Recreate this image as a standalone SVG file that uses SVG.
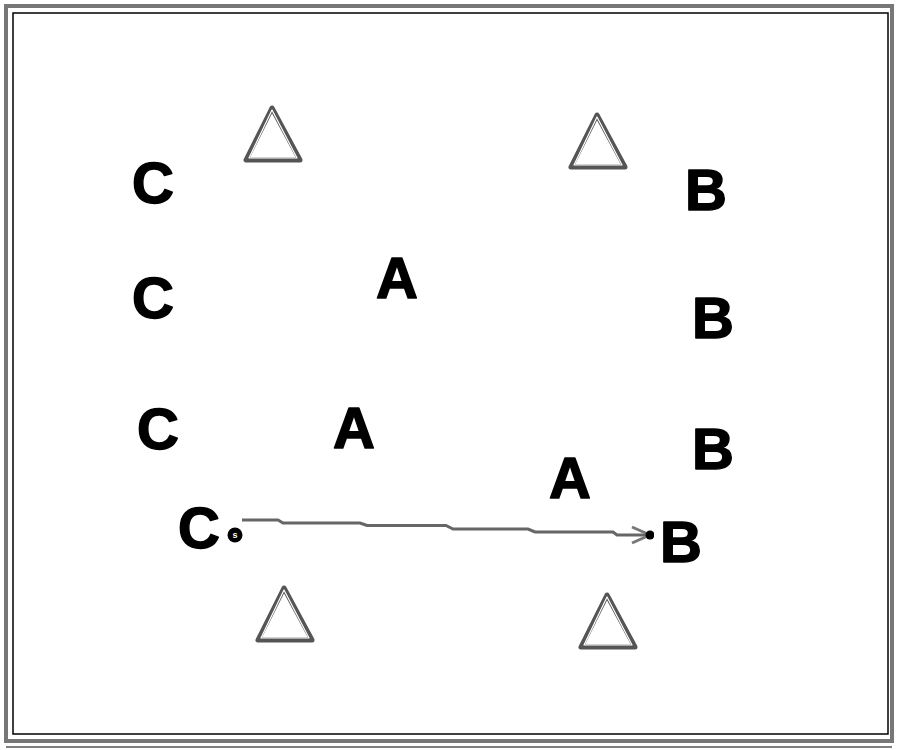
<svg xmlns="http://www.w3.org/2000/svg" width="900" height="750" viewBox="0 0 900 750">
<style>
.lbl{font-family:"Liberation Sans",Arial,sans-serif;font-weight:bold;font-size:58px;fill:#000;stroke:#000;stroke-width:1.5;stroke-linejoin:round;text-anchor:middle;dominant-baseline:central}
.cone{fill:none;stroke:#555;stroke-width:5;stroke-linejoin:round}
.cone-in{fill:none;stroke:#fff;stroke-width:1.2;stroke-linejoin:round}
</style>
<defs>
<marker id="ah" viewBox="0 0 24 20" refX="22" refY="10" markerWidth="24" markerHeight="20" markerUnits="userSpaceOnUse" orient="auto">
<path d="M2,2 L20,10 L2,18" fill="none" stroke="#777" stroke-width="3" stroke-linejoin="round"/>
<circle cx="20" cy="10" r="4.5" fill="#000"/>
</marker>
</defs>
<rect width="900" height="750" fill="#fff"/>
<rect x="6" y="6" width="886" height="735" fill="none" stroke="#777" stroke-width="4"/>
<rect x="13" y="13" width="875" height="721" fill="none" stroke="#000" stroke-width="1.5"/>
<line x1="6" y1="747" x2="892" y2="747" stroke="#000" stroke-width="1"/>

<g id="cones">
<g id="cone1"><polygon class="cone" points="272,108 246,160 300,160"/><polygon class="cone-in" points="272,110 249,158 297,158"/></g>
<g id="cone2"><polygon class="cone" points="597,115 571,167 625,167"/><polygon class="cone-in" points="597,117 574,165 622,165"/></g>
<g id="cone3"><polygon class="cone" points="284,588 258,640 312,640"/><polygon class="cone-in" points="284,590 261,638 309,638"/></g>
<g id="cone4"><polygon class="cone" points="607,595 581,647 635,647"/><polygon class="cone-in" points="607,597 584,645 632,645"/></g>
</g>

<g id="players">
<g id="c1"><text class="lbl" x="153" y="182">C</text></g>
<g id="c2"><text class="lbl" x="153" y="297">C</text></g>
<g id="c3"><text class="lbl" x="158" y="428">C</text></g>
<g id="c4"><text class="lbl" x="199" y="527">C</text></g>
<g id="a1"><text class="lbl" x="397" y="277">A</text></g>
<g id="a2"><text class="lbl" x="354" y="427">A</text></g>
<g id="a3"><text class="lbl" x="570" y="477">A</text></g>
<g id="b1"><text class="lbl" x="706" y="189">B</text></g>
<g id="b2"><text class="lbl" x="713" y="317">B</text></g>
<g id="b3"><text class="lbl" x="713" y="448">B</text></g>
<g id="b4"><text class="lbl" x="681" y="541">B</text></g>
</g>

<g id="connectors">
<polyline points="242,520 278,520 283,523 360,523 367,525.5 446,525.5 453,529 528,529 535,532 613,532 617,535 652,535" fill="none" stroke="#666" stroke-width="3" marker-end="url(#ah)"/>
</g>

<g id="ball">
<circle cx="235" cy="535" r="7.5" fill="#000"/>
<text x="235" y="535" font-family="Liberation Sans,Arial,sans-serif" font-size="9" font-weight="bold" fill="#fff" text-anchor="middle" dominant-baseline="central">s</text>
</g>
</svg>
